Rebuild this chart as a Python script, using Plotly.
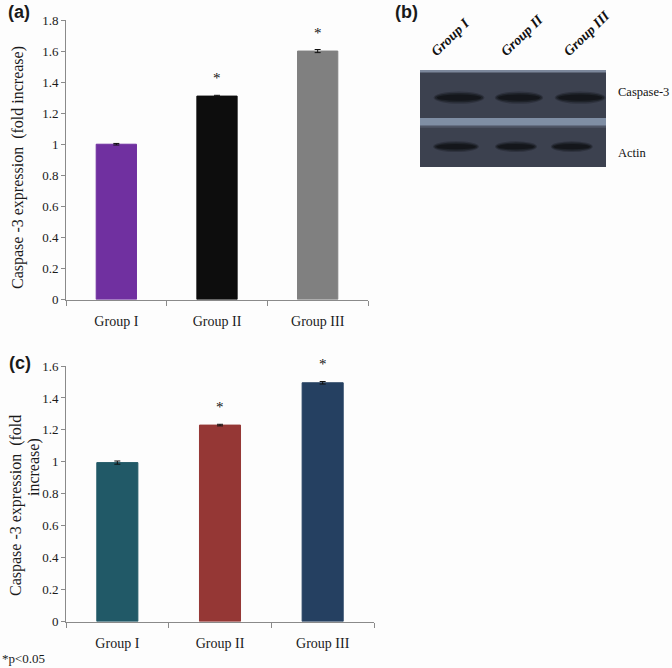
import plotly.graph_objects as go

W, H = 672, 668

groups = ["Group I", "Group II", "Group III"]

# Panel (a)
a_values = [1.00, 1.31, 1.60]
a_errors = [0.005, 0.005, 0.01]
a_colors = ["#7030a0", "#0d0d0d", "#808080"]
a_signif = [False, True, True]

# Panel (c)
c_values = [0.995, 1.23, 1.495]
c_errors = [0.01, 0.005, 0.008]
c_colors = ["#215967", "#953735", "#254061"]
c_signif = [False, True, True]

# Panel (b) blot
blot_rows = ["Caspase-3", "Actin"]
ytitle = "Caspase -3 expression  (fold increase)"

BG = "#fdfdfd"
SERIF = "Liberation Serif"

def px_x(p):
    return p / W

def px_y(p):
    return 1 - p / H

fig = go.Figure()

fig.add_trace(go.Bar(
    x=groups, y=a_values, width=0.4,
    marker=dict(color=a_colors, line=dict(color=a_colors, width=1)),
    error_y=dict(type="data", array=a_errors, color="#111", thickness=1, width=3),
    xaxis="x", yaxis="y", showlegend=False))

fig.add_trace(go.Bar(
    x=groups, y=c_values, width=0.4,
    marker=dict(color=c_colors, line=dict(color=c_colors, width=1)),
    error_y=dict(type="data", array=c_errors, color="#111", thickness=1, width=3),
    xaxis="x2", yaxis="y2", showlegend=False))

axis_common_x = dict(
    type="category", range=[-0.5, 2.5], showline=True, linecolor="#8a8a8a", linewidth=1,
    ticks="outside", tickson="boundaries", ticklen=5, tickcolor="#8a8a8a",
    tickfont=dict(family=SERIF, size=14, color="#1a1a1a"), showgrid=False, zeroline=False,
    fixedrange=True, automargin=False, ticklabelstandoff=9)
axis_common_y = dict(
    showline=True, linecolor="#8a8a8a", linewidth=1, ticks="outside", ticklen=4,
    tickcolor="#8a8a8a", dtick=0.2, tickfont=dict(family=SERIF, size=13, color="#1a1a1a"),
    showgrid=False, zeroline=False, fixedrange=True, automargin=False)

fig.update_layout(
    width=W, height=H, margin=dict(l=0, r=0, t=0, b=0, autoexpand=False),
    paper_bgcolor=BG, plot_bgcolor=BG,
    xaxis=dict(axis_common_x, domain=[px_x(66), px_x(368)], anchor="y"),
    yaxis=dict(axis_common_y, domain=[px_y(299.5), px_y(20)], range=[0, 1.8], anchor="x"),
    xaxis2=dict(axis_common_x, domain=[px_x(66), px_x(374)], anchor="y2"),
    yaxis2=dict(axis_common_y, domain=[px_y(621.5), px_y(366)], range=[0, 1.6], anchor="x2"),
    xaxis3=dict(domain=[px_x(420), px_x(606)], range=[-0.65, 2.45], visible=False,
                anchor="y3", fixedrange=True, automargin=False),
    yaxis3=dict(domain=[px_y(167), px_y(70)], range=[0, 1], visible=False,
                anchor="x3", fixedrange=True, automargin=False),
)

annotations = []
# asterisks
for xa, ya, vals, errs, sig in [("x", "y", a_values, a_errors, a_signif),
                                ("x2", "y2", c_values, c_errors, c_signif)]:
    for g, v, e, s in zip(groups, vals, errs, sig):
        if s:
            annotations.append(dict(x=g, y=v + e, xref=xa, yref=ya, text="*",
                                    showarrow=False, xanchor="center", yanchor="bottom", yshift=7,
                                    font=dict(family=SERIF, size=15, color="#111")))

def paper_note(text, xp, yp, size, family=SERIF, angle=0, xanchor="center"):
    return dict(x=px_x(xp), y=px_y(yp), xref="paper", yref="paper", text=text,
                textangle=angle, showarrow=False, xanchor=xanchor, yanchor="middle",
                font=dict(family=family, size=size, color="#1a1a1a"))

# y titles
annotations.append(paper_note(ytitle, 18, 168, 16, angle=-90))
line1, line2 = "Caspase -3 expression  (fold", "increase)"
annotations.append(paper_note(line1, 16, 506, 16, angle=-90))
annotations.append(paper_note(line2, 34, 467, 16, angle=-90))

# panel labels
for lbl, xp, yp in [("(a)", 19, 12), ("(b)", 406, 12), ("(c)", 20, 363)]:
    annotations.append(paper_note("<b>%s</b>" % lbl, xp, yp, 18, family="Liberation Sans"))

annotations.append(paper_note("*p<0.05", 0, 658, 13, xanchor="left"))

# blot lane labels
lane_shift = [-0.15, 0.05, 0.13]
for i, g in enumerate(groups):
    annotations.append(dict(x=i + lane_shift[i], y=1, xref="x3", yref="y3", text="<b><i>%s</i></b>" % g,
                            textangle=-44, showarrow=False, xanchor="center", yanchor="bottom", yshift=8,
                            font=dict(family=SERIF, size=14, color="#111")))

# blot row labels
row_y = [0.77, 0.14]
for r, yv in zip(blot_rows, row_y):
    annotations.append(dict(x=2.45, y=yv, xref="x3", yref="y3", text=r, xanchor="left", yanchor="middle",
                            xshift=10, showarrow=False, font=dict(family=SERIF, size=12.5, color="#111")))

shapes = []
# blot body
shapes.append(dict(type="rect", xref="x3", yref="y3", x0=-0.65, x1=2.45, y0=0, y1=1,
                   fillcolor="#3c414f", line=dict(width=0), layer="below"))
shapes.append(dict(type="rect", xref="x3", yref="y3", x0=-0.65, x1=2.45, y0=0.975, y1=1,
                   fillcolor="#7d889c", line=dict(width=0)))
shapes.append(dict(type="rect", xref="x3", yref="y3", x0=-0.65, x1=2.45, y0=0.425, y1=0.505,
                   fillcolor="#7f8ea4", line=dict(width=0)))
shapes.append(dict(type="rect", xref="x3", yref="y3", x0=-0.65, x1=2.45, y0=0.405, y1=0.425,
                   fillcolor="#4f5666", line=dict(width=0)))

band_rows = [(0.715, [0.0, 0.0, 0.02], [0.40, 0.38, 0.40], 0.04),
             (0.21, [-0.05, -0.05, -0.12], [0.36, 0.33, 0.33], 0.035)]
for yc, offs, halfw, halfh in band_rows:
    for i in range(len(groups)):
        xc = i + offs[i]
        for scale_w, scale_h, op in [(1.06, 1.6, 0.3), (1.0, 1.2, 0.55), (0.92, 0.8, 0.9)]:
            shapes.append(dict(type="circle", xref="x3", yref="y3",
                               x0=xc - halfw[i] * scale_w, x1=xc + halfw[i] * scale_w,
                               y0=yc - halfh * scale_h, y1=yc + halfh * scale_h,
                               fillcolor="#131519", opacity=op, line=dict(width=0)))

fig.update_layout(annotations=annotations, shapes=shapes)
fig.write_html("out.html", config={"displayModeBar": False},
               post_script="document.body.style.margin='0';document.body.style.overflow='hidden';")
